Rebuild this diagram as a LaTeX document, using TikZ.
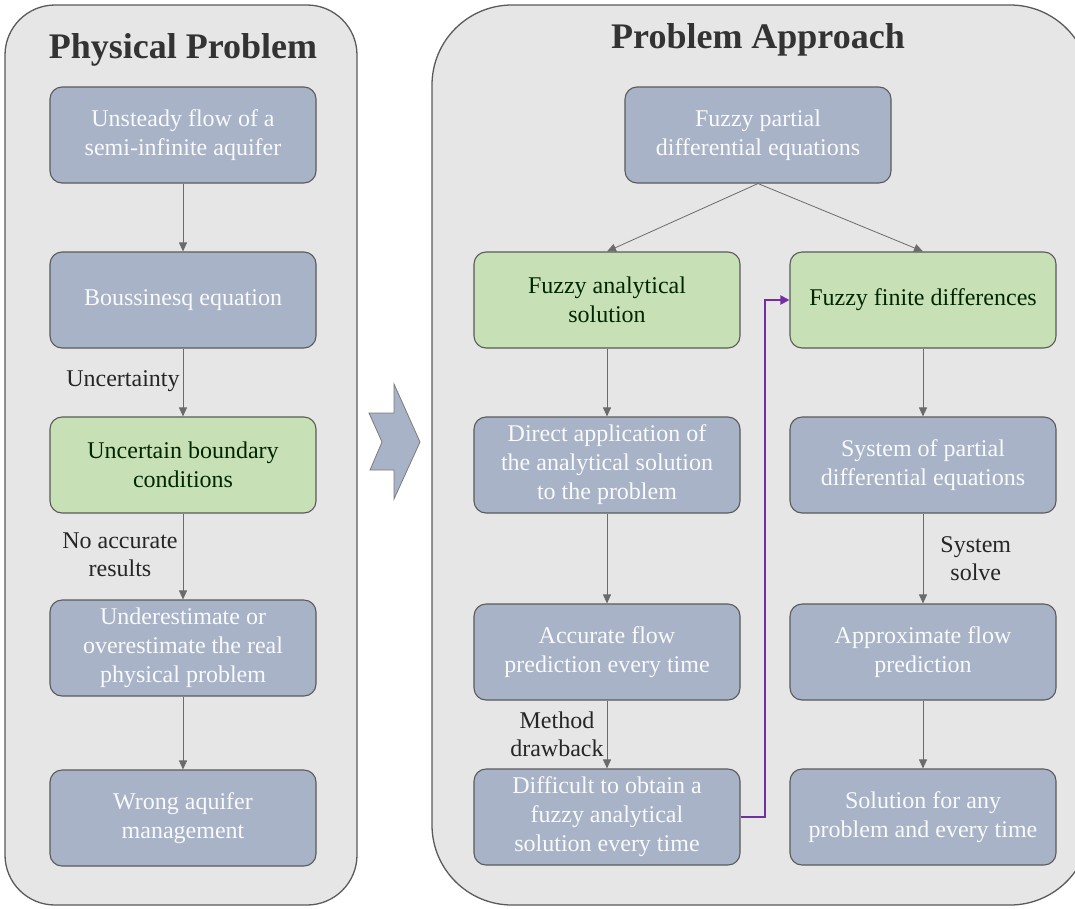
\documentclass[tikz,border=0pt]{standalone}
\usepackage{fontspec}
\setmainfont{Liberation Serif}
\usetikzlibrary{positioning,calc,arrows.meta}
\definecolor{panelgray}{HTML}{E6E6E6}
\definecolor{edgegray}{HTML}{5A5A5A}
\definecolor{slate}{HTML}{A8B3C7}
\definecolor{leaf}{HTML}{C8E0B5}
\definecolor{linkpurple}{HTML}{7030A0}
\begin{document}
\begin{tikzpicture}[x=1pt, y=-1pt,
    panel/.style={draw=edgegray, line width=1.3pt, fill=panelgray},
    box/.style={draw=edgegray, line width=1.1pt, fill=slate, rounded corners=12pt,
        minimum width=266pt, minimum height=96pt, align=center, text=white!93!slate,
        font=\rmfamily\fontsize{24}{29}\selectfont},
    gbox/.style={box, fill=leaf, text=black!85!green},
    title/.style={font=\rmfamily\fontsize{36}{40}\selectfont\bfseries, text=black!80},
    arr/.style={draw=edgegray!90, line width=0.8pt, -{Triangle[length=9pt, width=8pt]}},
    lbl/.style={font=\rmfamily\fontsize{24}{28}\selectfont, align=center, inner sep=3pt, text=black!85}]
				\useasboundingbox (0,0) rectangle (1075,908);
				% panels
				\draw [panel, rounded corners=50pt] (5,5) rectangle (357,905);
				\draw [panel, rounded corners=80pt] (432,5) rectangle (1090,905);
				\node [title] (phys) at (183,50) {Physical Problem};
				\node [title] (appr) at (758,40) {Problem Approach};
				% chevron
				\draw [draw=edgegray!80, fill=slate, line width=0.8pt] (394,384) -- (394,413) -- (369,413) -- (382,442) -- (370,470) -- (394,470) -- (394,499) -- (420,442) -- cycle;
				% left column
				\node [box] (flow) at (183,135) {Unsteady flow of a\\semi-infinite aquifer};
				\node [box] (bous) at (183,300) {Boussinesq equation};
				\node [gbox] (bound) at (183,465) {Uncertain boundary\\conditions};
				\node [box] (under) at (183,648) {Underestimate or\\overestimate the real\\physical problem};
				\node [box] (wrong) at (183,818) {Wrong aquifer\\management};
				% right part
				\node [box] (fpde) at (758,135) {Fuzzy partial\\differential equations};
				\node [gbox] (fanal) at (607,300) {Fuzzy analytical\\solution};
				\node [gbox] (ffd) at (923,300) {Fuzzy finite differences};
				\node [box] (direct) at (607,465) {Direct application of\\the analytical solution\\to the problem};
				\node [box] (accur) at (607,652) {Accurate flow\\prediction every time};
				\node [box] (diff) at (607,817) {Difficult to obtain a\\fuzzy analytical\\solution every time};
				\node [box] (syspde) at (923,465) {System of partial\\differential equations};
				\node [box] (approx) at (923,652) {Approximate flow\\prediction};
				\node [box] (anysol) at (923,817) {Solution for any\\problem and every time};
				% connectors
				\draw [arr] (flow) -- (bous);
				\draw [arr] (bous) -- node [lbl, left, yshift=1pt] {Uncertainty} (bound);
				\draw [arr] (bound) -- node [lbl, left, xshift=-2pt, yshift=2pt] {No accurate\\results} (under);
				\draw [arr] (under) -- (wrong);
				\draw [arr] (fpde.south) -- (fanal.north);
				\draw [arr] (fpde.south) -- (ffd.north);
				\draw [arr] (fanal) -- (direct);
				\draw [arr] (direct) -- (accur);
				\draw [arr] (accur) -- node [lbl, left] {Method\\drawback} (diff);
				\draw [arr] (ffd) -- (syspde);
				\draw [arr] (syspde) -- node [lbl, right, xshift=14pt] {System\\solve} (approx);
				\draw [arr] (approx) -- (anysol);
				\draw [draw=linkpurple, line width=2pt, -{Triangle[length=9pt, width=9pt]}] (diff.east) -- ++(24,0) |- (ffd.west);
			\end{tikzpicture}
\end{document}
